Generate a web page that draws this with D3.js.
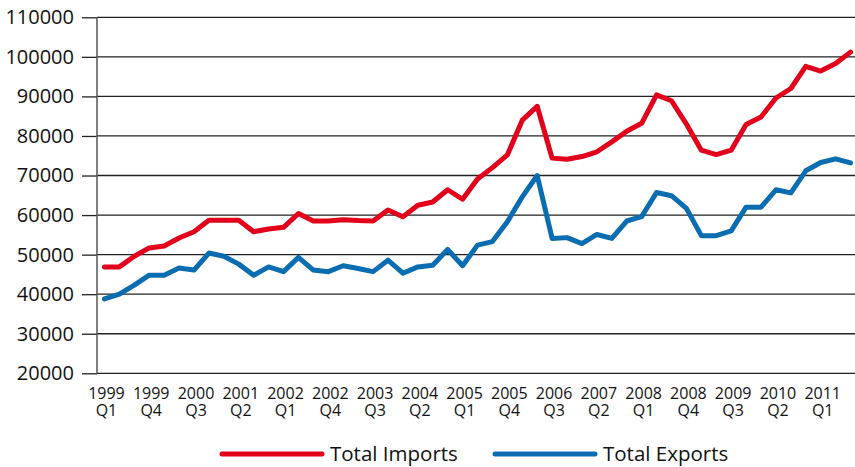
<!DOCTYPE html>
<html>
<head>
<meta charset="utf-8">
<script src="https://cdn.jsdelivr.net/npm/d3@7"></script>
<style>
  body { margin: 0; background: #fff; }
  svg { display: block; font-family: "Open Sans", sans-serif; }
</style>
</head>
<body>
<svg id="chart" width="855" height="467"></svg>
<script>
// quarters from 1999 Q1 to 2011 Q3
var quarters = [
  "1999 Q1","1999 Q2","1999 Q3","1999 Q4","2000 Q1","2000 Q2","2000 Q3","2000 Q4",
  "2001 Q1","2001 Q2","2001 Q3","2001 Q4","2002 Q1","2002 Q2","2002 Q3","2002 Q4",
  "2003 Q1","2003 Q2","2003 Q3","2003 Q4","2004 Q1","2004 Q2","2004 Q3","2004 Q4",
  "2005 Q1","2005 Q2","2005 Q3","2005 Q4","2006 Q1","2006 Q2","2006 Q3","2006 Q4",
  "2007 Q1","2007 Q2","2007 Q3","2007 Q4","2008 Q1","2008 Q2","2008 Q3","2008 Q4",
  "2009 Q1","2009 Q2","2009 Q3","2009 Q4","2010 Q1","2010 Q2","2010 Q3","2010 Q4",
  "2011 Q1","2011 Q2","2011 Q3"
];

var importsData = [
  46900, 46900, 49600, 51700, 52200, 54200, 55800, 58700, 58700, 58700,
  55800, 56500, 56900, 60400, 58500, 58500, 58800, 58600, 58500, 61300,
  59600, 62500, 63300, 66400, 64000, 69100, 72000, 75200, 84000, 87500,
  74400, 74100, 74800, 76000, 78500, 81200, 83200, 90400, 88900, 83000,
  76400, 75300, 76400, 82900, 84800, 89600, 92000, 97600, 96400, 98300,
  101200
];

var exportsData = [
  38800, 40000, 42300, 44800, 44800, 46600, 46100, 50400, 49600, 47600,
  44800, 46900, 45700, 49300, 46100, 45700, 47200, 46500, 45700, 48600,
  45300, 46900, 47300, 51300, 47200, 52400, 53300, 58300, 64600, 70000,
  54100, 54300, 52800, 55100, 54100, 58500, 59600, 65700, 64900, 61700,
  54800, 54800, 56000, 62000, 62000, 66400, 65600, 71200, 73300, 74200,
  73200
];

// every third quarter gets a label
var tickLabels = [
  "1999 Q1","1999 Q4","2000 Q3","2001 Q2","2002 Q1","2002 Q4","2003 Q3","2004 Q2",
  "2005 Q1","2005 Q4","2006 Q3","2007 Q2","2008 Q1","2008 Q4","2009 Q3","2010 Q2","2011 Q1"
];

var yTicks = [20000, 30000, 40000, 50000, 60000, 70000, 80000, 90000, 100000, 110000];

var seriesNames = ["Total Imports", "Total Exports"];
var seriesColors = ["#e2001a", "#0a6cb1"];

var svg = d3.select("#chart"),
    margin = {top: 17.3, right: 858, bottom: 373.3, left: 97};

var x = d3.scalePoint()
    .domain(quarters)
    .range([margin.left, margin.right])
    .padding(0.5);

var y = d3.scaleLinear()
    .domain([20000, 110000])
    .range([margin.bottom, margin.top]);

// y ticks and labels
var yAxis = svg.append("g")
    .attr("transform", "translate(" + margin.left + ",0)")
    .call(d3.axisLeft(y).tickValues(yTicks).tickSize(15).tickPadding(8).tickFormat(d3.format("d")));
yAxis.select(".domain").remove();
yAxis.selectAll("line").attr("stroke", "#222").attr("stroke-width", 1.3);
yAxis.selectAll("text")
    .attr("font-size", 20)
    .attr("fill", "#111")
    .attr("font-family", "Open Sans, sans-serif");

// grid lines
svg.append("g")
  .selectAll("line")
  .data(yTicks)
  .enter().append("line")
    .attr("x1", margin.left)
    .attr("x2", margin.right)
    .attr("y1", d => y(d))
    .attr("y2", d => y(d))
    .attr("stroke", "#222")
    .attr("stroke-width", 1.3);

// left axis line
svg.append("line")
    .attr("x1", margin.left).attr("x2", margin.left)
    .attr("y1", margin.top).attr("y2", margin.bottom)
    .attr("stroke", "#555")
    .attr("stroke-width", 1.5);

// x labels: year on top, quarter below
var xLab = svg.append("g")
  .selectAll("g")
  .data(tickLabels)
  .enter().append("g")
    .attr("transform", d => "translate(" + (x(d) + 2) + ",0)");

xLab.append("text")
    .attr("y", 399)
    .attr("text-anchor", "middle")
    .attr("font-size", 16)
    .attr("fill", "#111")
    .text(d => d.split(" ")[0]);

xLab.append("text")
    .attr("y", 416)
    .attr("text-anchor", "middle")
    .attr("font-size", 16)
    .attr("fill", "#111")
    .text(d => d.split(" ")[1]);

// lines
var line = d3.line()
    .x((d, i) => x(quarters[i]))
    .y(d => y(d));

svg.append("g")
  .selectAll("path")
  .data([importsData, exportsData])
  .enter().append("path")
    .attr("d", line)
    .attr("fill", "none")
    .attr("stroke", (d, i) => seriesColors[i])
    .attr("stroke-width", 5)
    .attr("stroke-linejoin", "round")
    .attr("stroke-linecap", "round");

// legend
var legendX = [222, 495];
var legend = svg.append("g")
  .selectAll("g")
  .data(seriesNames)
  .enter().append("g")
    .attr("transform", (d, i) => "translate(" + legendX[i] + ",454)");

legend.append("line")
    .attr("x1", 0).attr("x2", 100)
    .attr("stroke", (d, i) => seriesColors[i])
    .attr("stroke-width", 5)
    .attr("stroke-linecap", "round");

legend.append("text")
    .attr("x", 108)
    .attr("dy", "0.35em")
    .attr("font-size", 20.5)
    .attr("fill", "#111")
    .text(d => d);
</script>
</body>
</html>
